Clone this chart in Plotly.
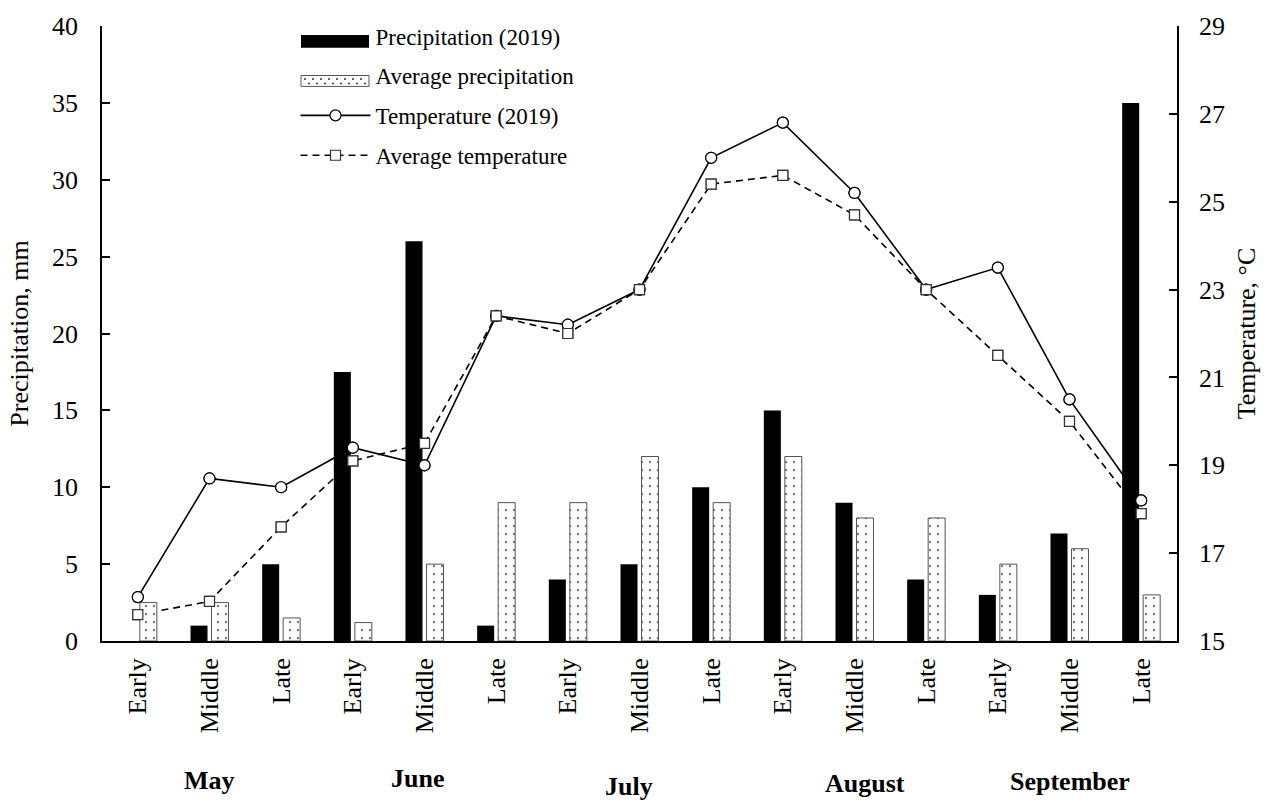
import plotly.graph_objects as go

# Ten-day periods of each month, May to September
periods = ["Early", "Middle", "Late"] * 5
months = ["May", "June", "July", "August", "September"]

# Precipitation, mm
precip_2019 = [0, 1, 5, 17.5, 26, 1, 4, 5, 10, 15, 9, 4, 3, 7, 35]
precip_avg = [2.5, 2.5, 1.5, 1.2, 5, 9, 9, 12, 9, 12, 8, 8, 5, 6, 3]

# Air temperature, °C
temp_2019 = [16.0, 18.7, 18.5, 19.4, 19.0, 22.4, 22.2, 23.0, 26.0, 26.8, 25.2, 23.0, 23.5, 20.5, 18.2]
temp_avg = [15.6, 15.9, 17.6, 19.1, 19.5, 22.4, 22.0, 23.0, 25.4, 25.6, 24.7, 23.0, 21.5, 20.0, 17.9]

x = list(range(len(periods)))
FONT = "Liberation Serif, Times New Roman, serif"

# Plot-area geometry in pixels (used to place the legend swatches)
W, H = 1270, 802
ML, MR, MT, MB = 102, 93, 20, 161
PW, PH = W - ML - MR, H - MT - MB


def px_x(p):
    return (p - ML) / PW


def px_y(p):
    return (H - MB - p) / PH


fig = go.Figure()

# Bars sit on an overlaying axis so they are drawn over the temperature lines
fig.add_trace(go.Bar(
    x=x, y=precip_2019, name="Precipitation (2019)", yaxis="y2",
    marker=dict(color="black", line=dict(width=0)), showlegend=False,
))
fig.add_trace(go.Bar(
    x=x, y=precip_avg, name="Average precipitation", yaxis="y2",
    marker=dict(color="white", line=dict(color="#555555", width=1),
                pattern=dict(shape=".", fgcolor="black", bgcolor="white",
                             size=8, solidity=0.08)),
    showlegend=False,
))

# Legend text entries for the bars (their wide swatches are drawn as shapes)
for i, name in enumerate(["Precipitation (2019)", "Average precipitation"]):
    fig.add_trace(go.Scatter(
        x=[None], y=[None], name=name, yaxis="y", mode="lines",
        line=dict(width=0, color="rgba(0,0,0,0)"),
        legendgroup=f"p{i}", legendrank=i + 1, hoverinfo="skip",
    ))

# Temperature lines (under the bars)
fig.add_trace(go.Scatter(
    x=x, y=temp_2019, name="Temperature (2019)", yaxis="y", mode="lines+markers",
    line=dict(color="black", width=1.6),
    marker=dict(symbol="circle", size=11, color="white", line=dict(color="black", width=1.2)),
    legendgroup="t0", legendrank=3,
))
fig.add_trace(go.Scatter(
    x=x, y=temp_avg, name="Average temperature", yaxis="y", mode="lines+markers",
    line=dict(color="black", width=1.6, dash="7px,5px"),
    marker=dict(symbol="square", size=10, color="white", line=dict(color="#333333", width=1.2)),
    legendgroup="t1", legendrank=4,
))

# Markers repeated on a top axis so they stay above the bars
fig.add_trace(go.Scatter(
    x=x, y=temp_2019, yaxis="y3", mode="markers", showlegend=False, hoverinfo="skip",
    marker=dict(symbol="circle", size=11, color="white", line=dict(color="black", width=1.2)),
))
fig.add_trace(go.Scatter(
    x=x, y=temp_avg, yaxis="y3", mode="markers", showlegend=False, hoverinfo="skip",
    marker=dict(symbol="square", size=10, color="white", line=dict(color="#333333", width=1.2)),
))

# Legend swatches for the two bar series
shapes = [
    dict(type="rect", xref="paper", yref="paper",
         x0=px_x(301), x1=px_x(369), y0=px_y(42), y1=px_y(29),
         fillcolor="black", line=dict(width=0)),
    dict(type="rect", xref="paper", yref="paper",
         x0=px_x(301), x1=px_x(369), y0=px_y(81), y1=px_y(70),
         fillcolor="white", line=dict(color="#555555", width=1)),
]
for k, dx in enumerate(range(305, 368, 8)):
    for dy in (73.5, 78):
        xx = dx + (4 if dy > 75 else 0)
        if xx > 366:
            continue
        shapes.append(dict(
            type="rect", xref="paper", yref="paper",
            x0=px_x(xx - 0.8), x1=px_x(xx + 0.8), y0=px_y(dy + 0.8), y1=px_y(dy - 0.8),
            fillcolor="black", line=dict(width=0),
        ))

axis_font = dict(family=FONT, size=26, color="black")

# Month names under the period labels
month_shift = [0, -7, -11, 10, 0]
month_y = [-0.227, -0.224, -0.237, -0.232, -0.229]
annotations = []
for i, m in enumerate(months):
    annotations.append(dict(
        x=3 * i + 1, xref="x", y=month_y[i], yref="paper", text=f"<b>{m}</b>",
        showarrow=False, xshift=month_shift[i], yanchor="middle",
        font=dict(family=FONT, size=26, color="black"),
    ))

fig.update_layout(
    width=W, height=H,
    margin=dict(l=ML, r=MR, t=MT, b=MB),
    paper_bgcolor="white", plot_bgcolor="white",
    barmode="group", bargap=0.414, bargroupgap=0.19,
    font=dict(family=FONT, color="black"),
    showlegend=True,
    legend=dict(
        x=0.18, y=px_y(8), xanchor="left", yanchor="top",
        font=dict(family=FONT, size=23, color="black"),
        bgcolor="rgba(0,0,0,0)", itemwidth=70, tracegroupgap=7,
        traceorder="grouped",
    ),
    xaxis=dict(
        range=[-0.5, 14.5], tickmode="array", tickvals=x, ticktext=periods,
        tickangle=-90, tickfont=axis_font, showline=True, linecolor="black",
        linewidth=1.5, ticks="", showgrid=False, zeroline=False,
        ticklabelstandoff=5,
    ),
    yaxis=dict(
        side="right", range=[15, 29], dtick=2, tick0=15,
        ticks="inside", ticklen=8, tickwidth=1.5, tickcolor="black",
        showline=True, linecolor="black", linewidth=1.5,
        showgrid=False, zeroline=False, tickfont=axis_font, ticklabelstandoff=15,
        title=dict(text="Temperature, °C", font=axis_font, standoff=13),
    ),
    yaxis2=dict(
        side="left", overlaying="y", range=[0, 40], dtick=5,
        ticks="inside", ticklen=8, tickwidth=1.5, tickcolor="black",
        showline=True, linecolor="black", linewidth=1.5,
        showgrid=False, zeroline=False, tickfont=axis_font, ticklabelstandoff=17,
        title=dict(text="Precipitation, mm", font=axis_font, standoff=16),
    ),
    yaxis3=dict(overlaying="y", range=[15, 29], visible=False),
    annotations=annotations,
    shapes=shapes,
)

fig.write_html("out.html")
